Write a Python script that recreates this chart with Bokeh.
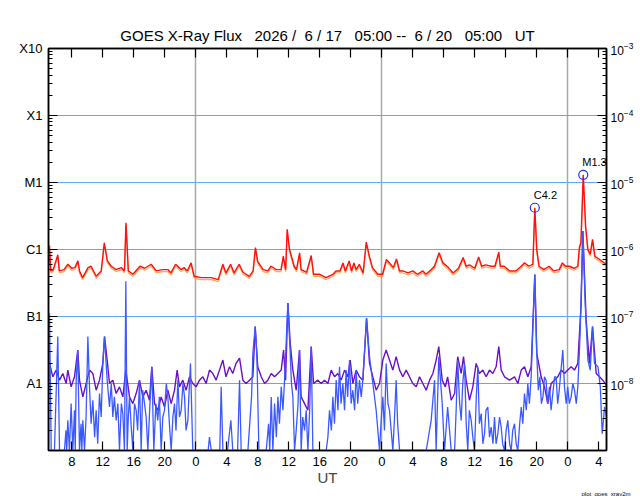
from bokeh.plotting import figure
from bokeh.models import (LogAxis, LinearAxis, FixedTicker, LogTickFormatter,
                          Range1d, Title)
from bokeh.embed import file_html
from bokeh.resources import INLINE
from bokeh.core.properties import value

FONT = "Liberation Sans"
NB = "\u00a0"

# ---- data: hours since 2026-06-17 05:00 UT, log10(flux W/m^2) ----
long_hours = [
    0.0, 0.13, 0.3, 0.6, 1.2, 1.4, 2.0, 2.5, 3.0, 3.4,
    3.8, 4.0, 4.4, 5.1, 5.5, 6.15, 6.8, 7.2, 7.6, 8.1,
    8.7, 9.4, 9.8, 10.0, 10.3, 10.9, 11.8, 12.4, 13.25, 13.9,
    14.7, 15.4, 15.8, 16.4, 17.1, 17.5, 17.9, 18.4, 18.8, 19.7,
    21.0, 21.9, 22.5, 22.9, 23.5, 23.95, 24.6, 25.1, 25.9, 26.4,
    26.7, 27.0, 27.7, 28.3, 28.7, 29.4, 30.0, 30.3, 30.6, 30.8,
    31.1, 31.7, 32.0, 32.4, 32.6, 33.3, 33.9, 34.2, 35.0, 35.8,
    36.7, 37.1, 37.6, 38.0, 38.3, 38.8, 39.1, 39.4, 39.7, 40.1,
    40.6, 41.0, 41.4, 41.8, 42.5, 43.1, 43.6, 44.0, 44.5, 44.9,
    45.3, 45.7, 46.4, 47.0, 47.6, 48.3, 48.7, 49.4, 49.8, 50.4,
    50.9, 51.6, 52.2, 52.9, 53.5, 53.9, 54.3, 55.0, 55.5, 55.9,
    56.4, 57.1, 57.6, 58.1, 58.3, 58.8, 59.5, 60.3, 61.0, 61.4,
    62.0, 62.5, 62.75, 63.0, 63.3, 63.9, 64.6, 65.2, 65.9, 66.3,
    66.7, 67.2, 67.8, 68.3, 68.5, 68.7, 69.0, 69.3, 69.6, 69.9,
    70.2, 70.5, 71.1, 71.7, 72.0,
]
long_primary_log = [
    -6.32, -5.94, -6.32, -6.30, -6.08, -6.32, -6.30, -6.22, -6.28, -6.27,
    -6.17, -6.32, -6.42, -6.27, -6.25, -6.40, -6.32, -5.90, -6.17, -6.25,
    -6.30, -6.27, -6.32, -5.60, -6.32, -6.37, -6.25, -6.28, -6.22, -6.32,
    -6.30, -6.30, -6.35, -6.22, -6.30, -6.27, -6.32, -6.20, -6.40, -6.42,
    -6.42, -6.45, -6.22, -6.35, -6.22, -6.35, -6.22, -6.34, -6.40, -6.32,
    -5.97, -6.18, -6.30, -6.32, -6.25, -6.30, -6.30, -6.10, -6.30, -5.70,
    -6.00, -6.25, -6.30, -6.05, -6.30, -6.34, -6.09, -6.37, -6.37, -6.42,
    -6.37, -6.32, -6.32, -6.20, -6.32, -6.17, -6.32, -6.20, -6.30, -6.22,
    -6.35, -5.89, -6.10, -6.27, -6.37, -6.37, -6.15, -6.20, -6.27, -6.14,
    -6.32, -6.32, -6.35, -6.32, -6.37, -6.32, -6.37, -6.30, -6.25, -6.05,
    -6.20, -6.27, -6.35, -6.28, -6.12, -6.25, -6.23, -6.28, -6.11, -6.25,
    -6.23, -6.25, -6.25, -6.04, -6.25, -6.25, -6.32, -6.32, -6.25, -6.20,
    -6.25, -6.22, -5.377, -6.00, -6.25, -6.30, -6.25, -6.32, -6.30, -6.20,
    -6.25, -6.25, -6.28, -6.25, -5.97, -5.90, -4.886, -5.65, -6.00, -6.07,
    -5.85, -6.10, -6.15, -6.20, -6.22,
]
long_secondary_log = [
    -6.35, -5.97, -6.35, -6.33, -6.11, -6.35, -6.33, -6.25, -6.31, -6.30,
    -6.20, -6.35, -6.45, -6.30, -6.28, -6.43, -6.35, -5.93, -6.20, -6.28,
    -6.33, -6.30, -6.35, -5.63, -6.35, -6.40, -6.28, -6.31, -6.25, -6.35,
    -6.33, -6.33, -6.38, -6.25, -6.33, -6.30, -6.35, -6.23, -6.43, -6.45,
    -6.45, -6.48, -6.25, -6.38, -6.25, -6.38, -6.25, -6.37, -6.43, -6.35,
    -6.00, -6.21, -6.33, -6.35, -6.28, -6.33, -6.33, -6.13, -6.33, -5.73,
    -6.03, -6.28, -6.33, -6.08, -6.33, -6.37, -6.12, -6.40, -6.40, -6.45,
    -6.40, -6.35, -6.35, -6.23, -6.35, -6.20, -6.35, -6.23, -6.33, -6.25,
    -6.38, -5.92, -6.13, -6.30, -6.40, -6.40, -6.18, -6.23, -6.30, -6.17,
    -6.35, -6.35, -6.38, -6.35, -6.40, -6.35, -6.40, -6.33, -6.28, -6.08,
    -6.23, -6.30, -6.38, -6.31, -6.15, -6.28, -6.26, -6.31, -6.14, -6.28,
    -6.26, -6.28, -6.28, -6.07, -6.28, -6.28, -6.35, -6.35, -6.28, -6.23,
    -6.28, -6.25, -5.40, -6.03, -6.28, -6.33, -6.28, -6.35, -6.33, -6.23,
    -6.28, -6.28, -6.31, -6.28, -6.00, -5.93, -4.90, -5.68, -6.03, -6.10,
    -5.88, -6.13, -6.18, -6.23, -6.25,
]

short_a_hours = [
    0.0, 0.13, 0.56, 0.99, 1.42, 1.85, 2.28, 2.49, 2.92, 3.35,
    3.78, 4.0, 4.43, 4.86, 5.29, 5.72, 6.15, 6.58, 7.01, 7.23,
    7.57, 7.87, 8.30, 8.73, 9.16, 9.59, 9.98, 10.45, 10.88, 11.31,
    11.74, 12.17, 12.6, 13.03, 13.33, 13.68, 14.11, 14.54, 14.97, 15.4,
    15.83, 16.26, 16.6, 16.9, 17.33, 17.76, 18.19, 18.62, 19.05, 19.48,
    19.91, 20.34, 20.77, 21.2, 21.63, 22.06, 22.5, 22.9, 23.35, 23.78,
    24.2, 24.65, 25.08, 25.5, 25.94, 26.37, 26.67, 27.0, 27.45, 27.88,
    28.3, 28.74, 29.17, 29.6, 30.03, 30.33, 30.59, 30.89, 31.19, 31.53,
    31.96, 32.39, 32.6, 33.04, 33.47, 33.9, 34.2, 34.76, 35.19, 35.62,
    36.05, 36.48, 36.91, 37.34, 37.77, 38.2, 38.63, 38.93, 39.27, 39.7,
    40.13, 40.56, 41.04, 41.42, 41.85, 42.28, 42.71, 43.14, 43.57, 44.0,
    44.43, 44.86, 45.3, 45.72, 46.15, 46.58, 47.0, 47.45, 47.88, 48.3,
    48.74, 49.17, 49.6, 50.02, 50.36, 50.8, 51.2, 51.5, 51.96, 52.4,
    52.8, 53.25, 53.55, 53.89, 54.32, 54.75, 55.18, 55.6, 56.04, 56.47,
    56.9, 57.33, 57.76, 58.1, 58.41, 58.84, 59.5, 60.13, 60.56, 61.0,
    61.42, 61.85, 62.28, 62.75, 63.0, 63.57, 64.0, 64.43, 64.86, 65.29,
    65.72, 66.15, 66.58, 67.0, 67.44, 67.87, 68.3, 68.73, 68.95, 69.37,
    69.8, 70.2, 70.67, 71.1, 71.52, 72.0,
]
short_a_log = [
    -7.80, -7.70, -7.90, -7.80, -7.95, -7.85, -8.00, -7.80, -8.05, -7.90,
    -7.50, -7.95, -8.20, -8.00, -7.80, -7.85, -8.10, -7.95, -7.70, -7.30,
    -7.65, -8.00, -7.95, -8.15, -8.05, -8.20, -7.80, -8.20, -8.30, -8.15,
    -7.95, -8.20, -8.10, -8.25, -7.75, -8.30, -8.40, -8.20, -8.35, -8.10,
    -8.30, -8.10, -7.80, -8.05, -7.95, -8.10, -7.90, -8.00, -8.05, -7.95,
    -7.90, -8.00, -7.80, -7.85, -7.95, -7.80, -7.65, -7.90, -7.75, -7.85,
    -7.70, -7.62, -7.95, -8.00, -7.95, -7.90, -7.15, -7.75, -7.90, -8.00,
    -7.95, -7.85, -7.90, -7.85, -7.80, -7.50, -7.95, -6.80, -7.40, -7.80,
    -8.10, -7.50, -8.20, -8.30, -8.40, -7.45, -8.00, -7.95, -8.00, -7.95,
    -8.00, -7.80, -7.90, -7.85, -7.95, -7.80, -7.90, -7.65, -8.00, -7.80,
    -7.90, -7.95, -7.025, -7.70, -7.90, -8.10, -8.00, -7.65, -7.50, -7.65,
    -7.80, -7.60, -7.80, -7.90, -7.80, -7.90, -8.00, -8.05, -7.90, -8.00,
    -8.10, -7.95, -7.85, -7.65, -7.45, -7.95, -8.05, -7.90, -8.25, -8.15,
    -7.60, -7.85, -7.60, -7.95, -8.25, -8.05, -7.70, -7.85, -7.80, -7.90,
    -7.80, -7.85, -7.75, -7.45, -7.80, -7.90, -7.95, -7.90, -8.00, -7.80,
    -7.75, -7.90, -7.75, -6.375, -7.55, -7.90, -8.05, -8.30, -8.00, -7.95,
    -7.90, -7.80, -7.85, -7.80, -7.75, -7.80, -7.70, -6.80, -5.725, -7.05,
    -7.70, -7.15, -7.85, -7.90, -7.95, -8.03,
]

# short channel, secondary detector: (hour, log10 flux); -9.0 = floor
short_b = [
    (0.0, -9.0), (0.13, -6.95), (0.35, -9.0), (0.77, -9.0), (1.2, -7.30),
    (1.42, -9.0), (2.06, -9.0), (2.25, -8.7), (2.35, -9.0), (2.49, -8.55),
    (2.7, -9.0), (2.92, -8.30), (3.14, -9.0), (3.35, -8.4), (3.45, -9.0),
    (3.57, -7.95), (3.78, -7.50), (4.0, -9.0), (4.2, -8.6), (4.3, -9.0),
    (4.43, -8.55), (4.65, -9.0), (4.85, -8.5), (5.08, -7.30), (5.29, -8.05),
    (5.5, -8.6), (5.72, -8.25), (5.95, -8.8), (6.15, -8.40), (6.35, -8.9),
    (6.58, -8.15), (6.8, -8.5), (7.01, -7.70), (7.23, -7.30), (7.57, -7.95),
    (7.87, -8.35), (8.1, -8.0), (8.3, -8.50), (8.5, -8.2), (8.73, -8.55),
    (8.95, -8.3), (9.16, -9.0), (9.4, -8.3), (9.59, -8.45), (9.8, -9.0),
    (9.98, -6.475), (10.15, -9.0), (10.3, -8.5), (10.45, -8.20), (10.65, -8.6),
    (10.88, -9.0), (11.1, -8.3), (11.31, -8.40), (11.5, -8.7), (11.74, -7.95),
    (11.96, -9.0), (12.15, -8.1), (12.39, -8.30), (12.6, -8.5), (12.82, -9.0),
    (13.05, -8.4), (13.33, -7.75), (13.59, -9.0), (13.85, -8.3), (14.1, -8.55),
    (14.3, -8.2), (14.54, -9.0), (14.75, -8.5), (14.97, -8.40), (15.2, -8.0),
    (15.4, -8.20), (15.6, -8.6), (15.83, -9.0), (16.05, -8.5), (16.26, -8.30),
    (16.45, -8.7), (16.69, -7.95), (16.9, -8.5), (17.12, -8.40), (17.35, -8.0),
    (17.55, -8.20), (17.75, -8.7), (17.98, -8.55), (18.15, -8.1), (18.32, -7.70),
    (18.62, -9.0), (19.48, -9.0), (20.6, -9.0), (20.77, -8.80), (21.0, -9.0),
    (22.1, -9.0), (22.28, -8.05), (22.5, -9.0), (23.1, -9.0), (23.53, -8.55),
    (23.78, -9.0), (24.4, -9.0), (24.65, -7.95), (24.86, -9.0), (25.73, -9.0),
    (26.2, -8.2), (26.37, -7.55), (26.67, -7.15), (26.89, -7.60), (27.15, -9.0),
    (28.09, -9.0), (28.4, -8.6), (28.55, -9.0), (28.74, -8.20), (28.95, -9.0),
    (29.17, -8.30), (29.4, -8.8), (29.6, -8.20), (29.8, -8.6), (30.03, -8.05),
    (30.25, -8.4), (30.46, -7.95), (30.89, -6.80), (31.19, -7.55), (31.35, -8.0),
    (31.53, -8.20), (31.75, -9.0), (31.96, -8.70), (32.2, -8.3), (32.39, -7.50),
    (32.6, -9.0), (32.8, -8.5), (33.04, -8.70), (33.25, -8.4), (33.47, -9.0),
    (33.7, -8.4), (33.9, -7.45), (34.11, -9.0), (35.0, -9.0), (35.83, -9.0),
    (36.05, -8.8), (36.26, -8.40), (36.5, -8.7), (36.69, -8.20), (36.9, -8.6),
    (37.12, -7.95), (37.35, -8.4), (37.55, -7.75), (37.75, -8.3), (37.98, -8.00),
    (38.2, -8.4), (38.41, -7.80), (38.6, -8.2), (38.84, -7.65), (39.05, -8.3),
    (39.27, -8.10), (39.5, -8.4), (39.7, -7.80), (39.9, -8.3), (40.13, -7.95),
    (40.35, -8.2), (40.56, -7.95), (41.04, -7.025), (41.42, -7.60), (41.85, -8.00),
    (42.28, -8.40), (42.71, -9.0), (42.9, -8.6), (43.14, -8.20), (43.35, -8.7),
    (43.57, -7.70), (43.8, -8.3), (44.0, -8.40), (44.43, -9.0), (44.65, -8.5),
    (44.86, -7.95), (45.05, -8.6), (45.3, -9.0), (46.15, -9.0), (47.0, -9.0),
    (47.88, -9.0), (48.74, -9.0), (49.38, -8.55), (49.81, -7.95), (50.02, -9.0),
    (50.36, -7.60), (50.8, -8.30), (51.1, -9.0), (51.5, -8.35), (51.96, -9.0),
    (52.4, -9.0), (52.6, -8.4), (52.8, -7.65), (53.05, -8.3), (53.25, -8.55),
    (53.45, -8.0), (53.68, -7.70), (53.9, -8.6), (54.1, -9.0), (54.3, -8.4),
    (54.54, -8.55), (54.75, -8.8), (54.97, -9.0), (55.2, -8.2), (55.4, -7.75),
    (55.6, -8.6), (55.83, -8.45), (56.05, -8.9), (56.26, -8.75), (56.45, -8.4),
    (56.69, -8.35), (56.9, -8.8), (57.12, -8.65), (57.35, -8.9), (57.55, -8.50),
    (57.75, -8.9), (57.98, -8.75), (58.2, -8.5), (58.41, -8.65), (58.6, -8.9),
    (58.84, -9.0), (59.05, -8.7), (59.27, -8.55), (59.5, -8.9), (59.7, -9.0),
    (59.9, -8.7), (60.13, -8.60), (60.35, -8.9), (60.56, -9.0), (60.8, -8.6),
    (61.0, -8.35), (61.2, -8.6), (61.42, -8.15), (61.65, -8.4), (61.85, -8.00),
    (62.05, -8.3), (62.28, -7.90), (62.75, -6.375), (63.0, -7.55), (63.2, -8.1),
    (63.4, -7.90), (63.6, -8.3), (63.8, -8.20), (64.0, -7.9), (64.2, -7.95),
    (64.4, -8.3), (64.64, -8.05), (64.85, -8.4), (65.07, -8.15), (65.3, -7.9),
    (65.5, -7.90), (65.7, -8.3), (65.9, -8.10), (66.36, -7.50), (66.58, -8.05),
    (66.8, -8.3), (67.0, -8.05), (67.2, -8.3), (67.44, -8.20), (67.65, -8.0),
    (67.87, -8.10), (68.1, -8.3), (68.3, -8.05), (68.6, -7.25), (68.95, -5.725),
    (69.25, -6.80), (69.6, -7.65), (69.9, -7.80), (70.2, -7.15), (70.45, -7.70),
    (70.9, -7.75), (71.2, -8.05), (71.45, -8.75), (71.75, -8.35), (72.0, -8.50),
]
short_b_hours = [h for h, _ in short_b]
short_b_log = [v for _, v in short_b]

flare_hours = [62.75, 69.0]
flare_flux = [4.2e-6, 1.3e-5]
flare_labels = ["C4.2", "M1.3"]

tick_hours = [3, 7, 11, 15, 19, 23, 27, 31, 35, 39, 43, 47, 51, 55, 59, 63, 67, 71]
tick_labels = ["8", "12", "16", "20", "0", "4", "8", "12", "16", "20",
               "0", "4", "8", "12", "16", "20", "0", "4"]
midnight_hours = [19, 43, 67]
decades = [1e-9, 1e-8, 1e-7, 1e-6, 1e-5, 1e-4, 1e-3]
class_labels = ["", "A1", "B1", "C1", "M1", "X1", "X10"]
grid_decades = [1e-8, 1e-7, 1e-6, 1e-5, 1e-4]

title_text = ("GOES X-Ray Flux" + NB * 3 + "2026 /" + NB * 2 + "6 / 17" + NB * 3 +
              "05:00 --" + NB * 2 + "6 / 20" + NB * 3 + "05:00" + NB * 3 + "UT")
footer_text = "plot_goes_xray2m"

assert len(long_hours) == len(long_primary_log) == len(long_secondary_log)
assert len(short_a_hours) == len(short_a_log)

minor = [k * d for d in decades[:-1] for k in range(2, 10)]

p = figure(frame_width=558, frame_height=402, output_backend="svg",
           toolbar_location=None, y_axis_type="log",
           x_range=Range1d(0, 72), y_range=Range1d(1e-9, 1e-3),
           min_border_left=48, min_border_right=31,
           min_border_top=48, min_border_bottom=40)

p.title.text = title_text
p.title.align = "center"
p.title.text_font = FONT
p.title.text_font_size = "15px"
p.title.text_font_style = "normal"
p.title.text_color = "black"

# grids
p.xgrid.ticker = FixedTicker(ticks=midnight_hours)
p.xgrid.grid_line_color = "#a8a8a8"
p.xgrid.grid_line_width = 1.5
p.ygrid.ticker = FixedTicker(ticks=grid_decades)
p.ygrid.grid_line_color = "#5aaef0"
p.ygrid.grid_line_width = 1

def style_axis(ax):
    ax.axis_line_color = "black"
    ax.axis_line_width = 1.5
    ax.major_tick_line_color = "black"
    ax.minor_tick_line_color = "black"
    ax.major_tick_line_width = 1.2
    ax.minor_tick_line_width = 1
    ax.major_tick_in = 9
    ax.major_tick_out = 0
    ax.minor_tick_in = 4
    ax.minor_tick_out = 0
    ax.major_label_text_font = FONT
    ax.major_label_text_font_size = "13px"
    ax.major_label_text_color = "black"

# bottom axis
xa = p.xaxis[0]
xa.ticker = FixedTicker(ticks=tick_hours)
xa.major_label_overrides = dict(zip(tick_hours, tick_labels))
style_axis(xa)
xa.major_label_standoff = 6
xa.axis_label = "UT"
xa.axis_label_text_font = FONT
xa.axis_label_text_font_size = "15px"
xa.axis_label_text_font_style = "normal"
xa.axis_label_standoff = 0

# left axis
ya = p.yaxis[0]
ya.ticker = FixedTicker(ticks=decades, minor_ticks=minor)
ya.major_label_overrides = dict(zip(decades, class_labels))
style_axis(ya)
ya.major_label_standoff = 6

# top axis
top = LinearAxis(ticker=FixedTicker(ticks=tick_hours),
                 major_label_overrides={t: "" for t in tick_hours})
style_axis(top)
top.major_label_text_font_size = "0px"
top.major_label_standoff = 0
p.add_layout(top, "above")

# right axis
right = LogAxis(ticker=FixedTicker(ticks=decades[1:], minor_ticks=minor),
                formatter=LogTickFormatter())
style_axis(right)
right.major_label_text_font_size = "12px"
right.major_label_standoff = 4
p.add_layout(right, "right")

p.add_layout(Title(text=footer_text, align="right", offset=-24, standoff=0,
                   text_font=FONT, text_font_size="6px",
                   text_font_style="normal", text_color="black"), "below")

p.outline_line_color = "black"
p.outline_line_width = 1.5

# series
p.line(long_hours, [10 ** v for v in long_secondary_log], line_color="#ffa85a", line_width=1.2)
p.line(long_hours, [10 ** v for v in long_primary_log], line_color="#ff1010", line_width=1.4)
p.line(short_a_hours, [10 ** v for v in short_a_log], line_color="#6a10c8", line_width=1.4)
p.line(short_b_hours, [10 ** v for v in short_b_log], line_color="#3a5aff", line_width=1.3)

# flare markers
p.scatter(flare_hours, flare_flux, marker="circle", size=9, fill_color=None,
          line_color="#2030ff", line_width=1.2)
p.text(flare_hours, flare_flux, text=flare_labels, x_offset=-1, y_offset=-13,
       text_align="left", text_baseline="middle", text_font=value(FONT),
       text_font_size="11px", text_color="black")

p.background_fill_color = "white"
p.border_fill_color = "white"

open("out.html", "w").write(file_html(p, INLINE))
